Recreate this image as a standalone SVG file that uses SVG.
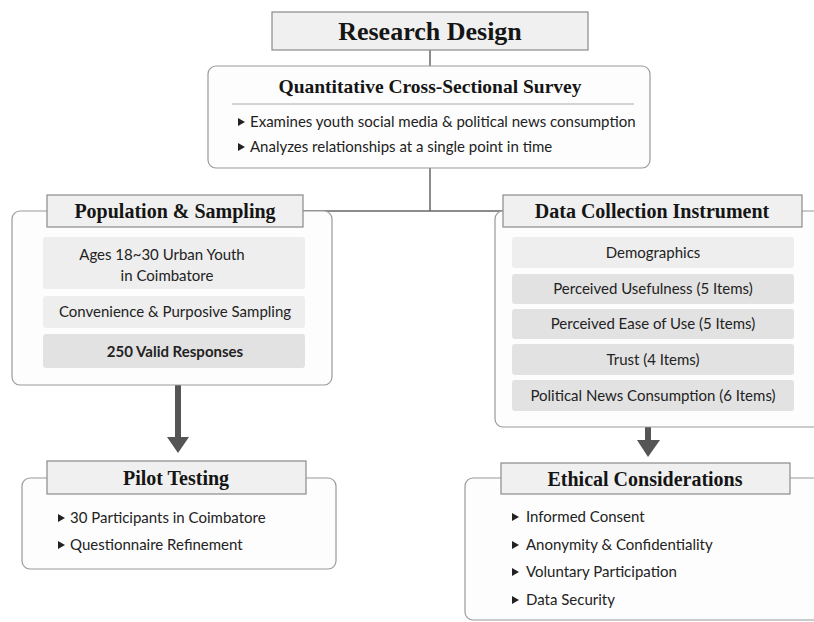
<svg xmlns="http://www.w3.org/2000/svg" xmlns:xlink="http://www.w3.org/1999/xlink" width="814" height="622" viewBox="0 0 814 622">
<style>
.hdr{fill:#f0f0f0;stroke:#8a8a8a;stroke-width:1.2}
.outer{fill:#fdfdfd;stroke:#9a9a9a;stroke-width:1.2}
.item1{fill:#eeeeee}
.item2{fill:#e2e2e2}
.ttl{font-family:"Liberation Serif","DejaVu Serif",serif;font-weight:bold;fill:#151515;text-anchor:middle}
.body{font-family:Lato,"Open Sans",sans-serif;font-size:15px;fill:#222}
.c{text-anchor:middle}
.line{stroke:#666;stroke-width:1.5;fill:none}
.arrow{stroke:#555;stroke-width:6;fill:none}
.ah{fill:#555}
</style>
<defs>
<polygon id="bul" points="0,-4 7,0 0,4" fill="#222"/>
</defs>
<g id="connectors">
<line class="line" x1="430" y1="50" x2="430" y2="66"/>
<line class="line" x1="430" y1="168" x2="430" y2="211"/>
<line class="line" x1="303" y1="211" x2="503" y2="211"/>
<line class="arrow" x1="178" y1="385" x2="178" y2="440"/>
<polygon class="ah" points="167,437 189,437 178,453"/>
<line class="arrow" x1="648" y1="427" x2="648" y2="443"/>
<polygon class="ah" points="637,440 660,440 648,457"/>
</g>
<g id="research-design">
<rect class="hdr" x="272" y="12" width="316" height="38"/>
<text class="ttl" x="430" y="40" font-size="26">Research Design</text>
</g>
<g id="survey">
<rect class="outer" x="208" y="66" width="442" height="102" rx="8"/>
<text class="ttl" x="430" y="93" font-size="19.5">Quantitative Cross-Sectional Survey</text>
<line x1="232" y1="104" x2="634" y2="104" stroke="#aaa" stroke-width="1"/>
<use xlink:href="#bul" x="238" y="122"/>
<text class="body" x="250" y="127" font-size="14.4">Examines youth social media &amp; political news consumption</text>
<use xlink:href="#bul" x="238" y="147"/>
<text class="body" x="250" y="152" font-size="14.4">Analyzes relationships at a single point in time</text>
</g>
<g id="population">
<rect class="outer" x="12" y="211" width="320" height="174" rx="8"/>
<rect class="hdr" x="47" y="195" width="256" height="32"/>
<text class="ttl" x="175" y="218" font-size="20">Population &amp; Sampling</text>
<rect class="item1" x="43" y="237" width="262" height="52" rx="3"/>
<text class="body c" x="162" y="260">Ages 18~30 Urban Youth</text>
<text class="body c" x="167" y="281">in Coimbatore</text>
<rect class="item1" x="43" y="296" width="262" height="32" rx="3"/>
<text class="body c" x="175" y="317">Convenience &amp; Purposive Sampling</text>
<rect class="item2" x="43" y="334" width="262" height="34" rx="3"/>
<text class="body c" x="175" y="357" font-weight="bold">250 Valid Responses</text>
</g>
<g id="data-collection">
<rect class="outer" x="495" y="211" width="330" height="216" rx="8"/>
<rect class="hdr" x="503" y="195" width="299" height="32"/>
<text class="ttl" x="652" y="218" font-size="20">Data Collection Instrument</text>
<rect class="item1" x="512" y="237" width="282" height="31" rx="3"/>
<text class="body c" x="653" y="258">Demographics</text>
<rect class="item2" x="512" y="274" width="282" height="30" rx="3"/>
<text class="body c" x="653" y="294">Perceived Usefulness (5 Items)</text>
<rect class="item2" x="512" y="309" width="282" height="30" rx="3"/>
<text class="body c" x="653" y="329">Perceived Ease of Use (5 Items)</text>
<rect class="item2" x="512" y="344" width="282" height="31" rx="3"/>
<text class="body c" x="653" y="365">Trust (4 Items)</text>
<rect class="item2" x="512" y="380" width="282" height="31" rx="3"/>
<text class="body c" x="653" y="401">Political News Consumption (6 Items)</text>
</g>
<g id="pilot-testing">
<rect class="outer" x="22" y="478" width="314" height="91" rx="8"/>
<rect class="hdr" x="47" y="461" width="259" height="33"/>
<text class="ttl" x="176" y="485" font-size="20">Pilot Testing</text>
<use xlink:href="#bul" x="58" y="518"/>
<text class="body" x="70" y="523">30 Participants in Coimbatore</text>
<use xlink:href="#bul" x="58" y="545"/>
<text class="body" x="70" y="550">Questionnaire Refinement</text>
</g>
<g id="ethical">
<rect class="outer" x="465" y="478" width="360" height="142" rx="8"/>
<rect class="hdr" x="501" y="463" width="289" height="31"/>
<text class="ttl" x="645" y="486" font-size="20">Ethical Considerations</text>
<use xlink:href="#bul" x="512" y="517"/>
<text class="body" x="526" y="522">Informed Consent</text>
<use xlink:href="#bul" x="512" y="545"/>
<text class="body" x="526" y="550">Anonymity &amp; Confidentiality</text>
<use xlink:href="#bul" x="512" y="572"/>
<text class="body" x="526" y="577">Voluntary Participation</text>
<use xlink:href="#bul" x="512" y="600"/>
<text class="body" x="526" y="605">Data Security</text>
</g>
</svg>
